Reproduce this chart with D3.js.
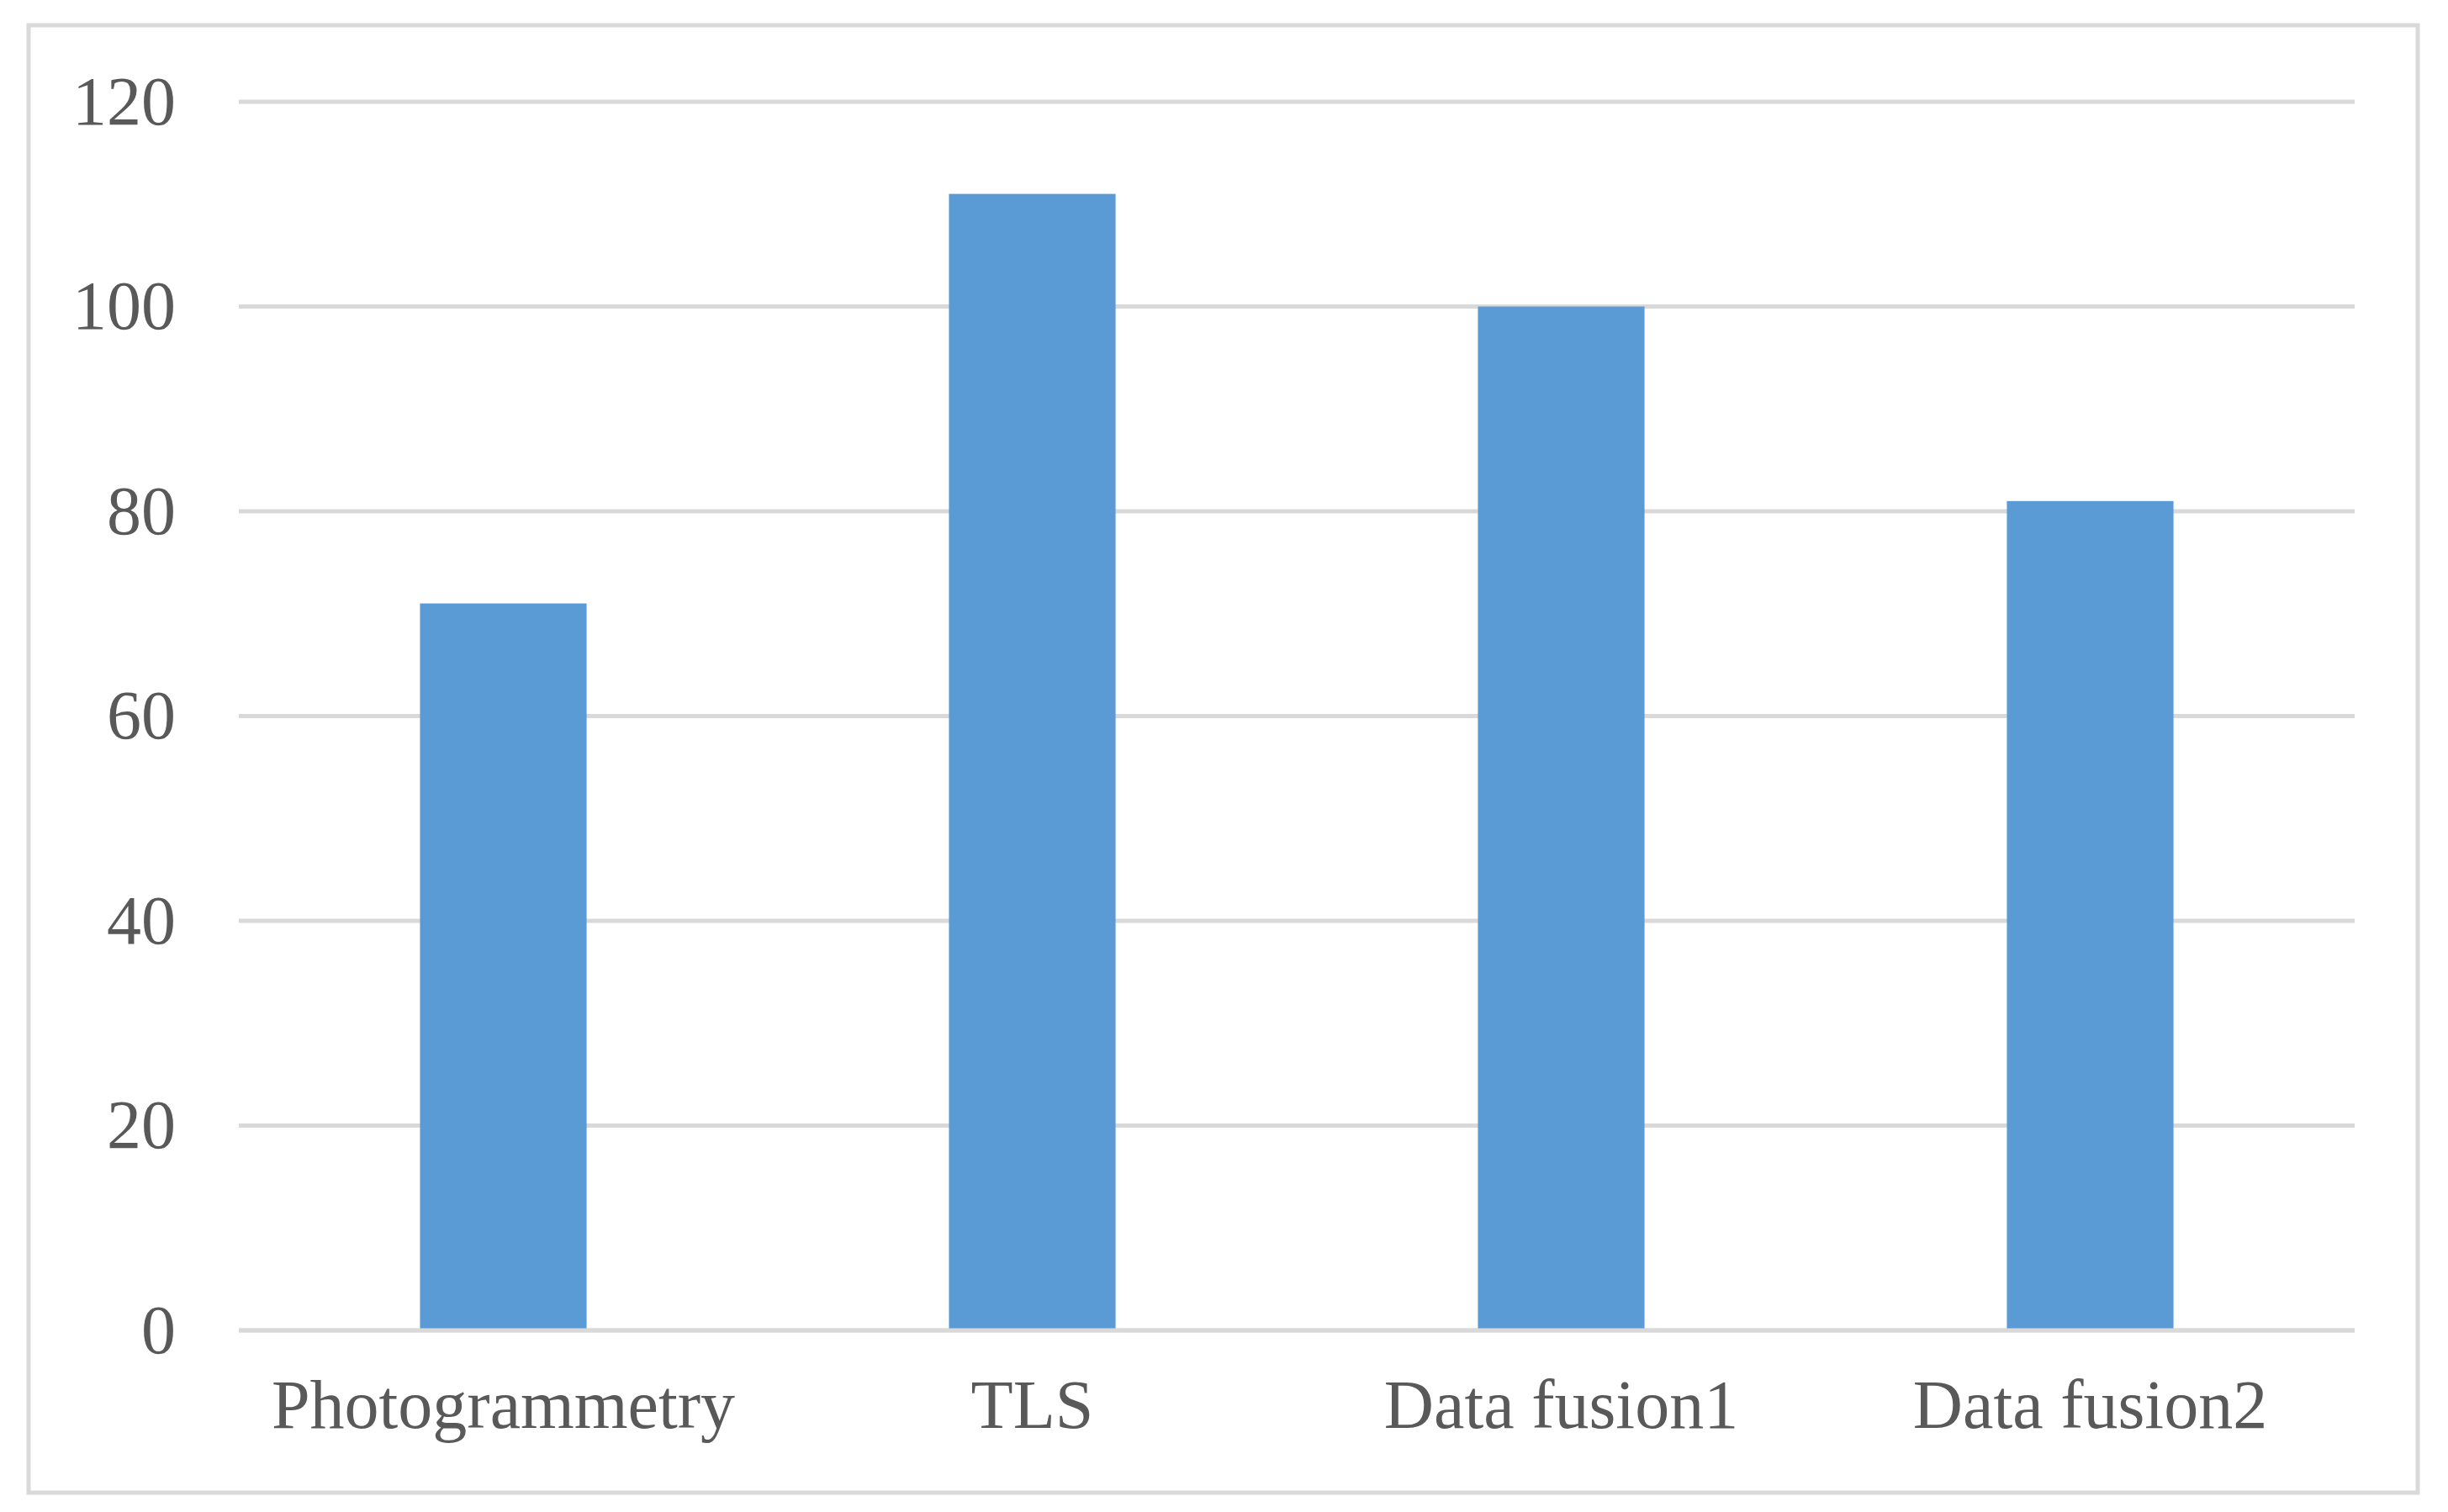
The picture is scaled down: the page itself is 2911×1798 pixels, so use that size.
<!DOCTYPE html>
<html>
<head>
<meta charset="utf-8">
<script src="https://cdn.jsdelivr.net/npm/d3@7"></script>
<style>body{margin:0;background:#fff;}</style>
</head>
<body>
<script>
var categories = ["Photogrammetry", "TLS", "Data fusion1", "Data fusion2"];
var values = [71, 111, 100, 81];
var yTicks = [0, 20, 40, 60, 80, 100, 120];

var W = 2911, H = 1798;
var margin = {top: 121, right: 111, bottom: 216, left: 284};
var width = W - margin.left - margin.right,
    height = H - margin.top - margin.bottom;

var svg = d3.select("body").append("svg")
    .attr("width", W).attr("height", H);

// chart frame
svg.append("rect")
    .attr("x", 34).attr("y", 30)
    .attr("width", 2841).attr("height", 1745)
    .attr("fill", "none").attr("stroke", "#d9d9d9").attr("stroke-width", 5);

var g = svg.append("g")
    .attr("transform", "translate(" + margin.left + "," + margin.top + ")");

var x = d3.scaleBand().domain(categories).range([0, width]).paddingInner(0.685).paddingOuter(0.3425);
var y = d3.scaleLinear().domain([0, 120]).range([height, 0]);

g.selectAll(".grid")
    .data(yTicks)
  .enter().append("line")
    .attr("x1", 0).attr("x2", width)
    .attr("y1", function(d) { return y(d); })
    .attr("y2", function(d) { return y(d); })
    .attr("stroke", "#d9d9d9").attr("stroke-width", 5);

g.selectAll(".bar")
    .data(values)
  .enter().append("rect")
    .attr("x", function(d, i) { return x(categories[i]); })
    .attr("y", function(d) { return y(d); })
    .attr("width", x.bandwidth())
    .attr("height", function(d) { return height - y(d); })
    .attr("fill", "#5b9bd5");

// redraw baseline over bars
g.append("line")
    .attr("x1", 0).attr("x2", width)
    .attr("y1", y(0)).attr("y2", y(0))
    .attr("stroke", "#d9d9d9").attr("stroke-width", 5);

var yAxis = g.append("g")
    .call(d3.axisLeft(y).tickValues(yTicks).tickSize(0).tickPadding(75));
yAxis.select(".domain").remove();
yAxis.selectAll("text")
    .attr("font-family", "Liberation Serif, Times New Roman, serif")
    .attr("font-size", "82px").attr("fill", "#595959");

var xAxis = g.append("g")
    .attr("transform", "translate(0," + height + ")")
    .call(d3.axisBottom(x).tickSize(0).tickPadding(58));
xAxis.select(".domain").remove();
xAxis.selectAll("text")
    .attr("font-family", "Liberation Serif, Times New Roman, serif")
    .attr("font-size", "82px").attr("fill", "#595959");
</script>
</body>
</html>
